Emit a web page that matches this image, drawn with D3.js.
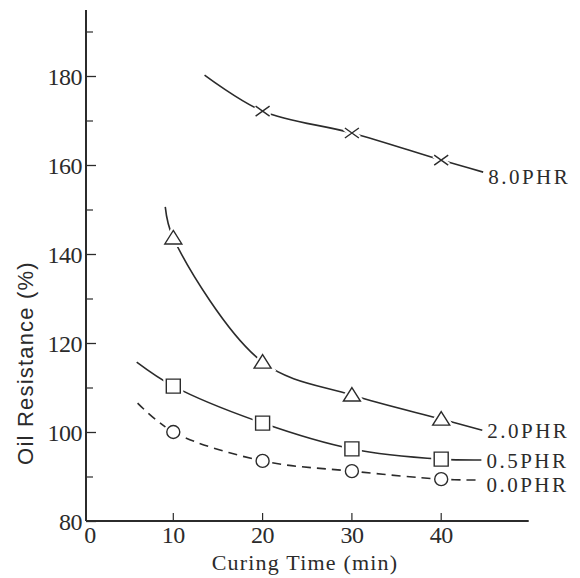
<!DOCTYPE html>
<html>
<head>
<meta charset="utf-8">
<script src="https://cdn.jsdelivr.net/npm/d3@7"></script>
<style>
  body { margin: 0; background: #fff; }
  svg text { fill: #2b2b2b; }
  .serif { font-family: "Liberation Serif", "Times New Roman", serif; }
  .sans { font-family: "Liberation Sans", Arial, sans-serif; }
</style>
</head>
<body>
<div id="chart"></div>
<script>
// Oil resistance vs curing time, one curve per PHR level
const markTimes = [10, 20, 30, 40];
const phr80 = [null, 172.1, 167.2, 161.1];
const phr20 = [143.6, 115.7, 108.3, 102.9];
const phr05 = [110.3, 102.0, 96.2, 93.9];
const phr00 = [100.0, 93.5, 91.2, 89.4];

// where each drawn curve starts and stops [time, value]
const ends80 = [[13.5, 180.2], [44.7, 158.4]];
const ends20 = [[9.1, 150.6], [44.6, 100.4]];
const ends05 = [[5.9, 115.7], [44.5, 93.7]];
const ends00 = [[6.0, 106.5], [44.5, 89.2]];

const seriesNames = ["8.0PHR", "2.0PHR", "0.5PHR", "0.0PHR"];
const yTicks = [80, 100, 120, 140, 160, 180];
const yMinor = [90, 110, 130, 150, 170, 190];
const xTicks = [0, 10, 20, 30, 40];

const width = 580, height = 578;
const ink = "#2b2b2b";

const svg = d3.select("#chart").append("svg")
  .attr("width", width).attr("height", height);

const xScale = d3.scaleLinear().domain([0, 50]).range([84, 530.5]);
const yScale = d3.scaleLinear().domain([80, 180]).range([521, 76]);
const axisX = 86;

// bygger serierne
const series = [
  { name: seriesNames[0], vals: phr80, ends: ends80, mark: "x", dash: null, dy: 5 },
  { name: seriesNames[1], vals: phr20, ends: ends20, mark: "tri", dash: null, dy: 0 },
  { name: seriesNames[2], vals: phr05, ends: ends05, mark: "sq", dash: null, dy: 1 },
  { name: seriesNames[3], vals: phr00, ends: ends00, mark: "circ", dash: "9,6", dy: 5 }
].map(s => {
  const pts = markTimes.map((t, i) => [t, s.vals[i]]).filter(p => p[1] != null);
  s.points = pts;
  s.curve = [s.ends[0]].concat(pts, [s.ends[1]]);
  return s;
});

const line = d3.line()
  .x(d => xScale(d[0]))
  .y(d => yScale(d[1]))
  .curve(d3.curveCatmullRom.alpha(0.5));

// Axes
const yAxis = d3.axisRight(yScale).tickValues(yTicks).tickSize(10).tickFormat("");
const yAxisG = svg.append("g").attr("transform", "translate(" + axisX + ",0)").call(yAxis);
yAxisG.select(".domain").remove();
yAxisG.selectAll("line").attr("stroke", ink).attr("stroke-width", 1.3);

const yMinorAxis = d3.axisRight(yScale).tickValues(yMinor).tickSize(7).tickFormat("");
const yMinorG = svg.append("g").attr("transform", "translate(" + axisX + ",0)").call(yMinorAxis);
yMinorG.select(".domain").remove();
yMinorG.selectAll("line").attr("stroke", ink).attr("stroke-width", 1.2);

svg.append("line")
  .attr("x1", axisX).attr("x2", axisX)
  .attr("y1", 10).attr("y2", yScale(80))
  .attr("stroke", ink).attr("stroke-width", 2);

svg.append("line")
  .attr("x1", axisX).attr("x2", xScale(49.8))
  .attr("y1", yScale(80)).attr("y2", yScale(80))
  .attr("stroke", ink).attr("stroke-width", 2);

svg.selectAll(".xtick")
  .data(xTicks.filter(d => d > 0))
  .enter().append("line")
  .attr("x1", d => xScale(d)).attr("x2", d => xScale(d))
  .attr("y1", yScale(80)).attr("y2", yScale(80) - 8)
  .attr("stroke", ink).attr("stroke-width", 1.2);

svg.selectAll(".ylab")
  .data(yTicks)
  .enter().append("text")
  .attr("class", "serif")
  .attr("x", axisX - 4)
  .attr("y", d => yScale(d))
  .attr("dy", "0.36em")
  .attr("text-anchor", "end")
  .attr("font-size", "24px")
  .attr("letter-spacing", "-0.5px")
  .text(d => d);

svg.selectAll(".xlab")
  .data(xTicks)
  .enter().append("text")
  .attr("class", "serif")
  .attr("x", d => xScale(d) + (d === 0 ? 6 : 0))
  .attr("y", yScale(80) + 22)
  .attr("text-anchor", "middle")
  .attr("font-size", "24px")
  .attr("letter-spacing", "-0.5px")
  .text(d => d);

// Akse titler
svg.append("text")
  .attr("class", "serif")
  .attr("x", 305).attr("y", 570)
  .attr("text-anchor", "middle")
  .attr("font-size", "22px")
  .attr("letter-spacing", "1.2px")
  .text("Curing Time  (min)");

svg.append("text")
  .attr("class", "sans")
  .attr("transform", "translate(33,363) rotate(-90)")
  .attr("text-anchor", "middle")
  .attr("font-size", "22px")
  .attr("letter-spacing", "1.2px")
  .text("Oil Resistance  (%)");

// Curves
svg.selectAll(".curve")
  .data(series)
  .enter().append("path")
  .attr("d", d => line(d.curve))
  .attr("fill", "none")
  .attr("stroke", ink)
  .attr("stroke-width", 1.6)
  .attr("stroke-dasharray", d => d.dash);

// Markers (hvid halo bryder linjen rundt om markøren)
function markPath(type) {
  if (type === "x") return "M-7,-5L7,5M-7,5L7,-5";
  if (type === "tri") return "M0,-7.5L8.5,6L-8.5,6Z";
  if (type === "sq") return "M-7,-7H7V7H-7Z";
  return d3.symbol().type(d3.symbolCircle).size(Math.PI * 6.5 * 6.5)();
}

series.forEach(s => {
  const g = svg.append("g");
  const pts = g.selectAll("g").data(s.points).enter().append("g")
    .attr("transform", d => "translate(" + xScale(d[0]) + "," + yScale(d[1]) + ")");
  pts.append("path")
    .attr("d", markPath(s.mark))
    .attr("fill", "#fff")
    .attr("stroke", "#fff")
    .attr("stroke-width", 6);
  pts.append("path")
    .attr("d", markPath(s.mark))
    .attr("fill", s.mark === "x" ? "none" : "#fff")
    .attr("stroke", ink)
    .attr("stroke-width", 1.4);
});

// Serie labels
svg.selectAll(".slab")
  .data(series)
  .enter().append("text")
  .attr("class", "serif")
  .attr("x", d => xScale(d.ends[1][0]) + 5)
  .attr("y", d => yScale(d.ends[1][1]) + d.dy)
  .attr("dy", "0.35em")
  .attr("font-size", "21px")
  .attr("letter-spacing", "2.5px")
  .text(d => d.name);
</script>
</body>
</html>
